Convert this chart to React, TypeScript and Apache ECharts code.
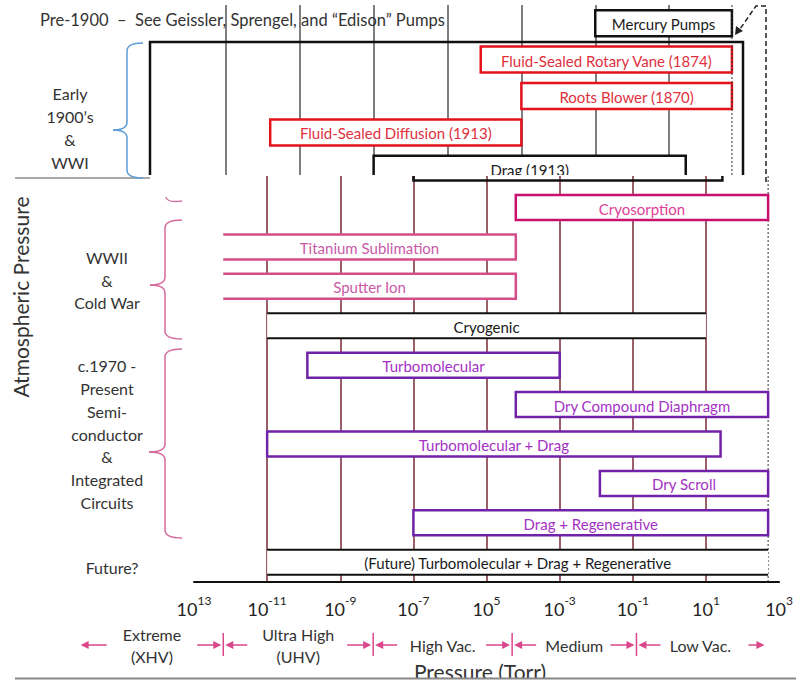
import React, { useEffect, useRef } from "react";
import * as echarts from "echarts";

const FONT = "Lato, 'Open Sans', sans-serif";
const AXIS_MIN = -13;
const AXIS_MAX = 3;
const ATM = 2.7;

const tickExponents = [-13, -11, -9, -7, -5, -3, -1, 1, 3];
const tickExponentText = ["13", "-11", "-9", "-7", "5", "-3", "-1", "1", "3"];

// Early 1900's & WWI panel (log10 Torr)
const earlyPumps = [
  "Mercury Pumps",
  "Fluid-Sealed Rotary Vane (1874)",
  "Roots Blower (1870)",
  "Fluid-Sealed Diffusion (1913)",
  "Drag (1913)",
];
const earlyLow = [-1, -4.1, -3, -9.8, -7];
const earlyHigh = [2.7, 2.7, 2.7, -3, 1.45];
const earlyKind = ["black", "red", "red", "red", "black"];

// WWII / Cold War / c.1970-present panel
const modernPumps = [
  "Drag (1913)",
  "Cryosorption",
  "Titanium Sublimation",
  "Sputter Ion",
  "Cryogenic",
  "Turbomolecular",
  "Dry Compound Diaphragm",
  "Turbomolecular + Drag",
  "Dry Scroll",
  "Drag + Regenerative",
  "(Future) Turbomolecular + Drag + Regenerative",
];
const modernRow = [-1, 0, 1, 2, 3, 4, 5, 6, 7, 8, 9];
const modernLow = [-7, -4.2, -12.2, -12.2, -11, -9.9, -4.2, -11, -1.9, -7, -11];
const modernHigh = [1.45, 2.7, -4.2, -4.2, 1, -3, 2.7, 1.4, 2.7, 2.7, 2.7];
const modernKind = ["ghost", "cryo", "pink", "pink", "lines", "purple", "purple", "purple", "purple", "purple", "lines"];

const regionNames = ["Extreme\n(XHV)", "Ultra High\n(UHV)", "High Vac.", "Medium", "Low Vac."];
const regionBounds = [-16.1, -12.2, -8.1, -4.3, -0.9, 2.6];

const KINDS: Record<string, { stroke: string; text: string; mode: string }> = {
  red: { stroke: "#E3121C", text: "#E0303E", mode: "box" },
  black: { stroke: "#111111", text: "#1a1a1a", mode: "box" },
  cryo: { stroke: "#C8106E", text: "#E0409A", mode: "box" },
  pink: { stroke: "#D44C88", text: "#C95AA6", mode: "open" },
  lines: { stroke: "#111111", text: "#1a1a1a", mode: "lines" },
  purple: { stroke: "#7022A8", text: "#A432C4", mode: "box" },
  ghost: { stroke: "#111111", text: "#1a1a1a", mode: "ghost" },
};

const off = (e: number) => e - AXIS_MIN;

function makeBarRenderer(names: string[], kinds: string[], barH: number) {
  return (params: any, api: any) => {
    const row = api.value(0);
    const lo = api.value(1);
    const hi = api.value(2);
    const p0 = api.coord([lo, row]);
    const p1 = api.coord([hi, row]);
    const k = KINDS[kinds[params.dataIndex]];
    const x0 = p0[0];
    const x1 = p1[0];
    const yc = p0[1];
    const yt = yc - barH / 2;
    const yb = yc + barH / 2;
    const children: any[] = [];
    if (k.mode === "ghost") {
      const top = params.coordSys.y;
      children.push({
        type: "polyline",
        shape: { points: [[x0, top], [x0, yb], [x1, yb], [x1, top]] },
        style: { stroke: k.stroke, lineWidth: 2.5, fill: null },
      });
      return { type: "group", children };
    }
    children.push({
      type: "rect",
      shape: { x: x0, y: yt, width: x1 - x0, height: barH },
      style: {
        fill: "#ffffff",
        stroke: k.mode === "box" ? k.stroke : null,
        lineWidth: 2.5,
      },
    });
    if (k.mode === "open") {
      children.push({
        type: "polyline",
        shape: { points: [[x0, yt], [x1, yt], [x1, yb], [x0, yb]] },
        style: { stroke: k.stroke, lineWidth: 2.5, fill: null },
      });
    }
    if (k.mode === "lines") {
      children.push({ type: "line", shape: { x1: x0, y1: yt, x2: x1, y2: yt }, style: { stroke: k.stroke, lineWidth: 2 } });
      children.push({ type: "line", shape: { x1: x0, y1: yb, x2: x1, y2: yb }, style: { stroke: k.stroke, lineWidth: 2 } });
    }
    children.push({
      type: "text",
      x: (x0 + x1) / 2,
      y: yc + 1,
      style: {
        text: names[params.dataIndex],
        fill: k.text,
        fontSize: 15,
        fontFamily: FONT,
        align: "center",
        verticalAlign: "middle",
      },
    });
    return { type: "group", children };
  };
}

function atmRenderer(params: any, api: any) {
  const x = api.coord([api.value(0), 0])[0];
  const cs = params.coordSys;
  return {
    type: "line",
    shape: { x1: x, y1: cs.y, x2: x, y2: cs.y + cs.height },
    style: { stroke: "#333", lineWidth: 1, lineDash: [2, 2] },
  };
}

const PINK = "#D9468A";

function arrow(xa: number, xb: number, y: number) {
  const dir = xb > xa ? 1 : -1;
  return [
    { type: "line", shape: { x1: xa, y1: y, x2: xb - dir * 4, y2: y }, style: { stroke: PINK, lineWidth: 1.5 } },
    {
      type: "polygon",
      shape: { points: [[xb, y], [xb - dir * 8, y - 4], [xb - dir * 8, y + 4]] },
      style: { fill: PINK },
    },
  ];
}

function regionRenderer(params: any, api: any) {
  const lo = api.value(0);
  const hi = api.value(1);
  const idx = params.dataIndex;
  const cs = params.coordSys;
  const y = cs.y + cs.height + 63;
  const xl = api.coord([lo, 0])[0];
  const xr = api.coord([hi, 0])[0];
  const children: any[] = [];
  children.push({
    type: "text",
    x: (xl + xr) / 2,
    y: y,
    style: {
      text: regionNames[idx],
      fill: "#333",
      fontSize: 16,
      lineHeight: 22,
      fontFamily: FONT,
      align: "center",
      verticalAlign: "middle",
    },
  });
  if (idx === 0) {
    children.push(...arrow(xl + 26, xl, y));
  } else {
    children.push({ type: "line", shape: { x1: xl, y1: y - 12, x2: xl, y2: y + 11 }, style: { stroke: PINK, lineWidth: 1.5 } });
    children.push(...arrow(xl + 24, xl + 2, y));
  }
  if (idx === regionNames.length - 1) {
    children.push(...arrow(xr - 16, xr, y));
  } else {
    children.push(...arrow(xr - 26, xr - 2, y));
  }
  return { type: "group", children };
}

function brace(xR: number, xM: number, xT: number, y1: number, yT: number, y2: number, color: string) {
  const r = 8;
  const st = { stroke: color, lineWidth: 1.5, fill: null };
  return [
    { type: "bezierCurve", z: 7, shape: { x1: xR, y1: y1, x2: xM, y2: y1 + r, cpx1: xM, cpy1: y1 }, style: st },
    { type: "line", z: 7, shape: { x1: xM, y1: y1 + r, x2: xM, y2: yT - r }, style: st },
    { type: "bezierCurve", z: 7, shape: { x1: xM, y1: yT - r, x2: xT, y2: yT, cpx1: xM, cpy1: yT }, style: st },
    { type: "bezierCurve", z: 7, shape: { x1: xT, y1: yT, x2: xM, y2: yT + r, cpx1: xM, cpy1: yT }, style: st },
    { type: "line", z: 7, shape: { x1: xM, y1: yT + r, x2: xM, y2: y2 - r }, style: st },
    { type: "bezierCurve", z: 7, shape: { x1: xM, y1: y2 - r, x2: xR, y2: y2, cpx1: xM, cpy1: y2 }, style: st },
  ];
}

function label(text: string, x: number, y: number, size: number, lh: number, align = "center", z = 7) {
  return {
    type: "text",
    z,
    x,
    y,
    style: {
      text,
      fill: "#333",
      fontSize: size,
      lineHeight: lh,
      fontFamily: FONT,
      align,
      verticalAlign: "middle",
    },
  };
}

export default function App() {
  const ref = useRef<HTMLDivElement>(null);
  useEffect(() => {
    if (!ref.current) return;
    const chart = echarts.init(ref.current, undefined, { renderer: "svg" });

    const graphic: any[] = [
      // white background of the lower (modern) panel, hides the lower part of the upper panel
      { type: "rect", z: 3, shape: { x: 0, y: 175, width: 796, height: 514 }, style: { fill: "#ffffff" } },
      // frame of the upper panel
      {
        type: "polyline",
        z: 2,
        shape: { points: [[150, 178], [150, 42], [743, 42], [743, 178]] },
        style: { stroke: "#111", lineWidth: 2.5, fill: null },
      },
      label("Pre-1900  –  See Geissler, Sprengel, and “Edison” Pumps", 40, 20, 16.5, 18, "left", 2),
      // dashed connector from Mercury Pumps
      {
        type: "polyline",
        z: 7,
        shape: { points: [[766, 182], [766, 6], [756, 6], [740, 29]] },
        style: { stroke: "#222", lineWidth: 1.5, lineDash: [5, 3], fill: null },
      },
      {
        type: "polygon",
        z: 7,
        shape: { points: [[735, 35], [736, 26], [743, 31]] },
        style: { fill: "#222" },
      },
      { type: "line", z: 7, shape: { x1: 15, y1: 178, x2: 150, y2: 178 }, style: { stroke: "#555", lineWidth: 1 } },
      // braces
      ...brace(143, 127, 113, 43, 130, 178, "#5B9BD5"),
      { type: "bezierCurve", z: 7, shape: { x1: 166, y1: 197, x2: 182, y2: 201, cpx1: 167, cpy1: 203 }, style: { stroke: "#D46A9A", lineWidth: 1.5, fill: null } },
      ...brace(182, 165, 150, 220, 285, 339, "#D46A9A"),
      ...brace(182, 165, 149, 349, 452, 538, "#D46A9A"),
      // era labels
      label("Early\n1900’s\n&\nWWI", 70, 128, 16, 23, "center", 2),
      label("WWII\n&\nCold War", 107, 280, 16, 22.5),
      label("c.1970 -\nPresent\nSemi-\nconductor\n&\nIntegrated\nCircuits", 107, 434, 16, 22.8),
      label("Future?", 112, 567, 16, 20),
      // rotated y label
      {
        type: "text",
        z: 7,
        x: 20,
        y: 297,
        rotation: Math.PI / 2,
        style: {
          text: "Atmospheric Pressure",
          fill: "#333",
          fontSize: 21,
          fontFamily: FONT,
          align: "center",
          verticalAlign: "middle",
        },
      },
      // x axis title
      label("Pressure (Torr)", 480, 671, 21, 24, "center", 7),
      { type: "rect", z: 8, shape: { x: 0, y: 679, width: 796, height: 10 }, style: { fill: "#ffffff" } },
      { type: "line", z: 8, shape: { x1: 15, y1: 678.5, x2: 796, y2: 678.5 }, style: { stroke: "#888", lineWidth: 2 } },
    ];

    const option: any = {
      animation: false,
      backgroundColor: "#ffffff",
      grid: [
        { left: 152, width: 591, top: 5, height: 182 },
        { left: 194, width: 591, top: 176, height: 406 },
      ],
      xAxis: [
        {
          gridIndex: 0,
          type: "value",
          min: 0,
          max: off(AXIS_MAX),
          interval: 2,
          z: 1,
          axisLine: { show: false },
          axisTick: { show: false },
          axisLabel: { show: false },
          splitLine: { show: true, showMinLine: false, showMaxLine: false, lineStyle: { color: "#555", width: 1.5 } },
        },
        {
          gridIndex: 1,
          type: "value",
          min: 0,
          max: off(AXIS_MAX),
          interval: 2,
          z: 5,
          axisLine: { show: true, onZero: false, lineStyle: { color: "#111", width: 2 } },
          axisTick: { show: false },
          axisLabel: {
            show: true,
            margin: 12,
            showMinLabel: true,
            showMaxLabel: true,
            formatter: (v: number) => {
              const e = Math.round(v + AXIS_MIN);
              const i = tickExponents.indexOf(e);
              return i < 0 ? "" : `{b|10}{s|${tickExponentText[i]}}`;
            },
            rich: {
              b: { fontSize: 18, fontFamily: FONT, color: "#222", lineHeight: 24, verticalAlign: "bottom" },
              s: { fontSize: 12, fontFamily: FONT, color: "#222", lineHeight: 12, verticalAlign: "top" },
            },
          },
          splitLine: { show: true, showMinLine: false, showMaxLine: false, lineStyle: { color: "#7a2a35", width: 1.5 } },
        },
      ],
      yAxis: [
        { gridIndex: 0, type: "category", inverse: true, data: earlyPumps, show: false },
        { gridIndex: 1, type: "value", inverse: true, min: -0.8, max: 9.5, show: false },
      ],
      series: [
        {
          type: "custom",
          name: "early",
          xAxisIndex: 0,
          yAxisIndex: 0,
          z: 1,
          clip: false,
          encode: { x: [1, 2], y: 0 },
          renderItem: makeBarRenderer(earlyPumps, earlyKind, 26),
          data: earlyPumps.map((_, i) => [i, off(earlyLow[i]), off(earlyHigh[i])]),
        },
        {
          type: "custom",
          name: "atm-early",
          xAxisIndex: 0,
          yAxisIndex: 0,
          z: 1,
          encode: { x: 0 },
          renderItem: atmRenderer,
          data: [[off(ATM)]],
        },
        {
          type: "custom",
          name: "atm-modern",
          xAxisIndex: 1,
          yAxisIndex: 1,
          z: 6,
          encode: { x: 0 },
          renderItem: atmRenderer,
          data: [[off(ATM)]],
        },
        {
          type: "custom",
          name: "modern",
          xAxisIndex: 1,
          yAxisIndex: 1,
          z: 6,
          clip: false,
          encode: { x: [1, 2], y: 0 },
          renderItem: makeBarRenderer(modernPumps, modernKind, 25),
          data: modernPumps.map((_, i) => [modernRow[i], off(modernLow[i]), off(modernHigh[i])]),
        },
        {
          type: "custom",
          name: "regions",
          xAxisIndex: 1,
          yAxisIndex: 1,
          z: 6,
          clip: false,
          encode: { x: [0, 1], y: 2 },
          renderItem: regionRenderer,
          data: regionNames.map((_, i) => [off(regionBounds[i]), off(regionBounds[i + 1]), 0]),
        },
      ],
      graphic,
    };
    chart.setOption(option);
    return () => chart.dispose();
  }, []);
  return (
    <div
      ref={ref}
      style={{ position: "fixed", left: 0, top: 0, width: 796, height: 689, background: "#fff" }}
    />
  );
}
